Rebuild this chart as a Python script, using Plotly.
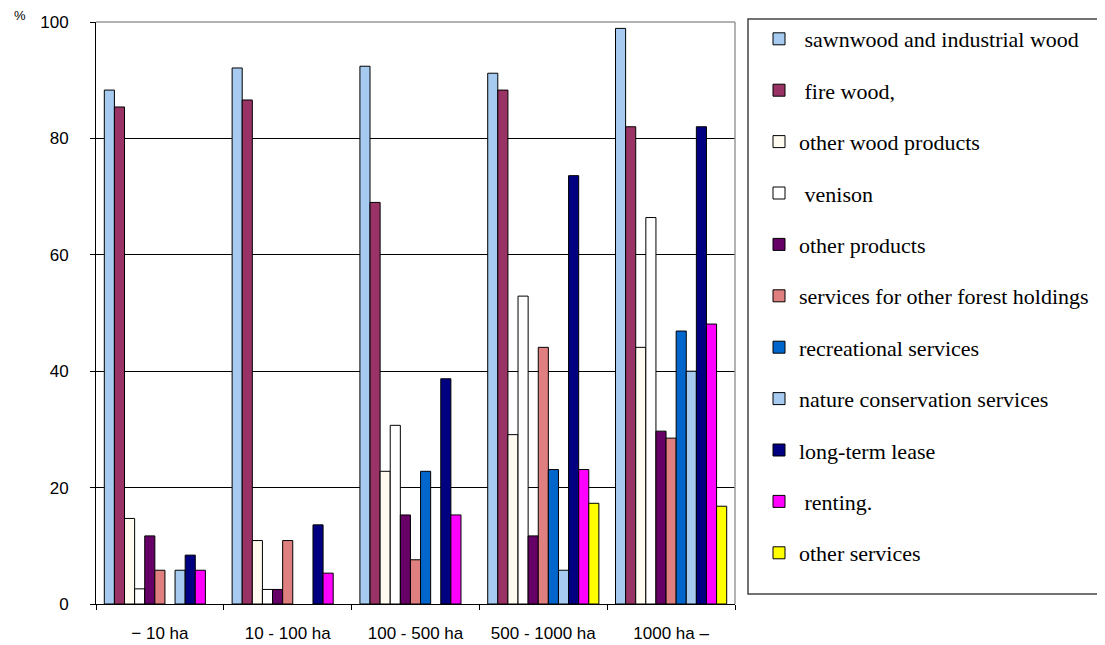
import plotly.graph_objects as go

categories = ["− 10 ha", "10 - 100 ha", "100 - 500 ha", "500 - 1000 ha", "1000 ha –"]

series_names = [
    " sawnwood and industrial wood",
    " fire wood,",
    "other wood products",
    " venison",
    "other products",
    "services for other forest holdings",
    "recreational services",
    "nature conservation services",
    "long-term lease",
    " renting.",
    "other services",
]

sawnwood = [88.3, 92.1, 92.4, 91.2, 98.9]
fire_wood = [85.4, 86.6, 69.0, 88.3, 82.0]
other_wood = [14.7, 10.9, 22.8, 29.1, 44.1]
venison = [2.6, 2.5, 30.7, 52.9, 66.4]
other_products = [11.7, 2.5, 15.3, 11.7, 29.7]
services_forest = [5.8, 10.9, 7.6, 44.1, 28.5]
recreational = [None, None, 22.8, 23.1, 46.9]
nature_cons = [5.8, None, None, 5.8, 40.0]
long_term_lease = [8.4, 13.6, 38.7, 73.6, 82.0]
renting = [5.8, 5.3, 15.3, 23.1, 48.1]
other_services = [None, None, None, 17.3, 16.8]

values = [sawnwood, fire_wood, other_wood, venison, other_products, services_forest,
          recreational, nature_cons, long_term_lease, renting, other_services]

colors = ["#A6CAF0", "#993366", "#FFFBF0", "#FFFFFF", "#660066", "#E07F7F",
          "#0066CC", "#A6CAF0", "#000080", "#FF00FF", "#FFFF00"]

y_ticks = [0, 20, 40, 60, 80, 100]

# figure coordinates (page adds an 8px body margin)
W, H = 1097, 637
L, R, T, B = 88, 370, 14, 41
PW, PH = W - L - R, H - T - B

fig = go.Figure()
for i, (name, vals, col) in enumerate(zip(series_names, values, colors)):
    fig.add_trace(go.Bar(
        x=categories, y=vals, name=name, legendgroup=f"g{i:02d}",
        marker=dict(color=col, line=dict(color="black", width=1)),
    ))

fig.update_layout(
    width=W, height=H,
    margin=dict(l=L, r=R, t=T, b=B, pad=0, autoexpand=False),
    paper_bgcolor="white", plot_bgcolor="white",
    barmode="group", bargap=0.13, bargroupgap=0,
    showlegend=True,
    legend=dict(
        xref="container", yref="container",
        x=751 / W, y=1 - 10 / H, xanchor="left", yanchor="top",
        font=dict(family="Liberation Serif", size=22, color="black"),
        tracegroupgap=19.8, traceorder="grouped", maxheight=630,
        bgcolor="rgba(0,0,0,0)", borderwidth=0,
    ),
    xaxis=dict(
        type="category", showline=True, linecolor="black", linewidth=1,
        ticks="outside", tickson="boundaries", ticklen=5, tickcolor="black",
        tickfont=dict(family="Liberation Sans", size=17, color="black"),
        ticklabelstandoff=14,
        showgrid=False,
    ),
    yaxis=dict(
        range=[0, 100], tickvals=y_ticks, showline=True, linecolor="black", linewidth=1,
        ticks="outside", ticklen=5, tickcolor="black",
        tickfont=dict(family="Liberation Sans", size=17, color="black"),
        ticklabelstandoff=18,
        showgrid=True, gridcolor="black", gridwidth=1, zeroline=False,
    ),
    shapes=[
        dict(type="line", xref="paper", yref="paper", x0=0, x1=1, y0=1, y1=1,
             line=dict(color="#999999", width=1.5), layer="above"),
        dict(type="line", xref="paper", yref="paper", x0=1, x1=1, y0=0, y1=1,
             line=dict(color="#999999", width=1.5), layer="above"),
        dict(type="rect", xref="paper", yref="paper",
             x0=(740 - L) / PW, x1=(1104 - L) / PW,
             y0=(H - B - 586) / PH, y1=(H - B - 11) / PH,
             line=dict(color="#444444", width=1.5), layer="above"),
    ],
    annotations=[
        dict(text="%", xref="paper", yref="paper", x=(4 - L) / PW, y=1 + 7 / PH,
             xanchor="left", yanchor="middle", showarrow=False,
             font=dict(family="Liberation Sans", size=13, color="black")),
    ],
)

fig.write_html("out.html")
